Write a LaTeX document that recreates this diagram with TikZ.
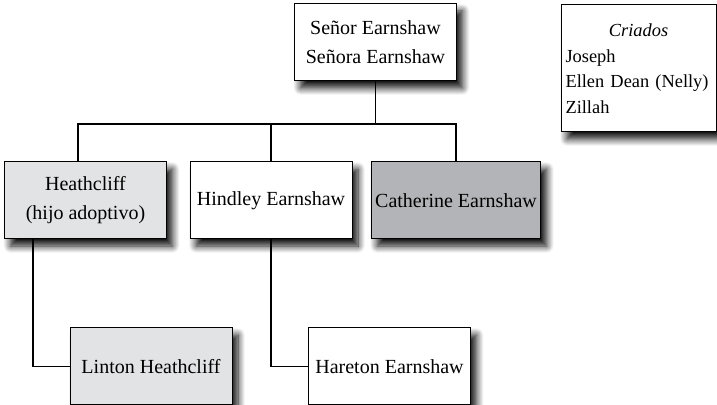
\documentclass[tikz,border=0pt]{standalone}
\usepackage{fontspec}
\setmainfont{Liberation Serif}
\usetikzlibrary{shadows.blur}
\definecolor{grisclaro}{RGB}{226,227,229}
\definecolor{grisoscuro}{RGB}{178,180,183}

\begin{document}
\begin{tikzpicture}[x=0.5pt,y=-0.5pt]
% Estilos de las cajas
\tikzstyle{caja}=[draw,line width=0.5pt,fill=white,rectangle,
  minimum width=81pt,minimum height=38.5pt,inner sep=2pt,align=center,
  font=\fontsize{10}{14.5}\selectfont,
  blur shadow={shadow xshift=3pt,shadow yshift=-3.5pt,shadow blur radius=3.5pt,
               shadow blur steps=10,shadow opacity=95}]
\tikzstyle{adoptado}=[caja,fill=grisclaro]
\tikzstyle{hija}=[caja,fill=grisoscuro]
\tikzstyle{linea}=[line width=0.8pt]

\useasboundingbox (0,0) rectangle (717,405);

% Los padres
\node[caja] (padres) at (375.5,42.5) {Señor Earnshaw\\Señora Earnshaw};

% Los hijos, en una fila
\foreach \x/\num/\tipo/\texto in {85.5/heathcliff/adoptado/{Heathcliff\\(hijo adoptivo)},
                                 271/hindley/caja/{Hindley Earnshaw},
                                 456/catherine/hija/{Catherine Earnshaw}}{
    \node[\tipo] (\num) at (\x,200.5) {\texto};
}

% Los nietos
\node[adoptado] (linton) at (151,366.5) {Linton Heathcliff};
\node[caja] (hareton) at (389.5,366.5) {Hareton Earnshaw};

% Los criados, aparte
\node[caja,minimum width=77.5pt,minimum height=63.5pt,text width=73pt,
  align=left,font=\fontsize{9.2}{12.75}\selectfont] (criados) at (638.5,68.5)
  {\makebox[\linewidth]{\textit{Criados}}\\Joseph\\Ellen Dean (Nelly)\\Zillah};

% Las líneas de parentesco
\coordinate (barra) at (375.5,124);
\draw[linea] (padres) -- (barra);
\draw[linea] ([xshift=-3.75pt]heathcliff.north) |- (barra) -| (catherine.north);
\draw[linea] (hindley.north) -- (hindley.north |- barra);
\draw[linea] ([xshift=-26.25pt]heathcliff.south) |- (linton.west);
\draw[linea] (hindley.south) |- (hareton.west);
\end{tikzpicture}
\end{document}
